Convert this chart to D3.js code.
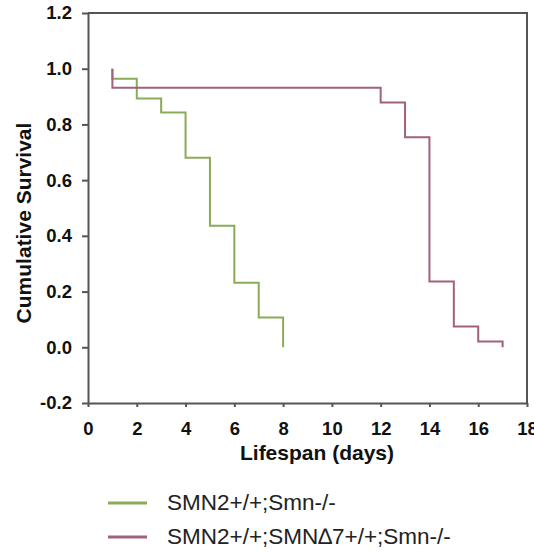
<!DOCTYPE html>
<html lang="en">
<head>
  <meta charset="utf-8">
  <title>Cumulative Survival</title>
  <script src="https://d3js.org/d3.v7.min.js"></script>
  <style>
    body { margin: 0; background: #fff; }
    svg { display: block; font-family: "Liberation Sans", Arial, sans-serif; }
    .axis path, .axis line { stroke: #555; stroke-width: 2; }
    .axis text { font-weight: bold; font-size: 18.5px; fill: #111; }
    .label { font-weight: bold; font-size: 21px; fill: #111; }
    .legend text { font-size: 22.5px; fill: #222; }
  </style>
</head>
<body>
<div id="chart"></div>
<script>
// series
var greenDays = [1, 1, 2, 3, 4, 5, 6, 7, 8];
var greenSurv = [1.0, 0.964, 0.893, 0.843, 0.68, 0.436, 0.232, 0.107, 0.0];

var purpleDays = [1, 1, 12, 13, 14, 15, 16, 17];
var purpleSurv = [1.0, 0.932, 0.879, 0.754, 0.236, 0.075, 0.021, 0.0];

var xTicks = [0, 2, 4, 6, 8, 10, 12, 14, 16, 18];
var yTicks = [-0.2, 0, 0.2, 0.4, 0.6, 0.8, 1.0, 1.2];
var yTickLabels = ["-0.2", "0.0", "0.2", "0.4", "0.6", "0.8", "1.0", "1.2"];

var seriesNames = ["SMN2+/+;Smn-/-", "SMN2+/+;SMN\u22067+/+;Smn-/-"];

var W = 534, H = 554;
var margin = {top: 13, right: 7, bottom: 151, left: 88};

var svg = d3.select("#chart").append("svg")
    .attr("width", W)
    .attr("height", H);

var x = d3.scaleLinear().domain([0, 18]).range([margin.left, W - margin.right]);
var y = d3.scaleLinear().domain([-0.2, 1.2]).range([H - margin.bottom, margin.top]);

// frame (top and right sides)
svg.append("path")
    .attr("d", "M" + x(0) + "," + y(1.2) + "H" + x(18) + "V" + y(-0.2))
    .attr("fill", "none")
    .attr("stroke", "#555")
    .attr("stroke-width", 2);

// x axis
svg.append("g")
    .attr("class", "axis")
    .attr("transform", "translate(0," + y(-0.2) + ")")
    .call(d3.axisBottom(x).tickValues(xTicks).tickSizeInner(4).tickSizeOuter(0).tickPadding(15));

// y axis
svg.append("g")
    .attr("class", "axis")
    .attr("transform", "translate(" + x(0) + ",0)")
    .call(d3.axisLeft(y).tickValues(yTicks)
      .tickFormat(function(d, i) { return yTickLabels[i]; })
      .tickSizeInner(6).tickSizeOuter(0).tickPadding(10));

// axis titles
svg.append("text")
    .attr("class", "label")
    .attr("x", 317)
    .attr("y", 460)
    .style("text-anchor", "middle")
    .text("Lifespan (days)");

svg.append("text")
    .attr("class", "label")
    .attr("transform", "rotate(-90)")
    .attr("x", -223)
    .attr("y", 31)
    .style("text-anchor", "middle")
    .text("Cumulative Survival");

// step curves
var line = d3.line()
    .x(function(d) { return x(d[0]); })
    .y(function(d) { return y(d[1]); })
    .curve(d3.curveStepAfter);

var green = greenDays.map(function(d, i) { return [d, greenSurv[i]]; });
var purple = purpleDays.map(function(d, i) { return [d, purpleSurv[i]]; });
var colors = ["#8aab58", "#a3607e"];

svg.append("path")
    .datum(green)
    .attr("d", line)
    .attr("fill", "none")
    .attr("stroke", colors[0])
    .attr("stroke-width", 2);

svg.append("path")
    .datum(purple)
    .attr("d", line)
    .attr("fill", "none")
    .attr("stroke", colors[1])
    .attr("stroke-width", 2);

// legend
var legend = svg.append("g").attr("class", "legend");
seriesNames.forEach(function(name, i) {
  var ly = 503 + i * 34;
  legend.append("line")
      .attr("x1", 108).attr("x2", 147)
      .attr("y1", ly).attr("y2", ly)
      .attr("stroke", colors[i])
      .attr("stroke-width", 3);
  legend.append("text")
      .attr("x", 167)
      .attr("y", ly + 7)
      .text(name);
});
</script>
</body>
</html>
